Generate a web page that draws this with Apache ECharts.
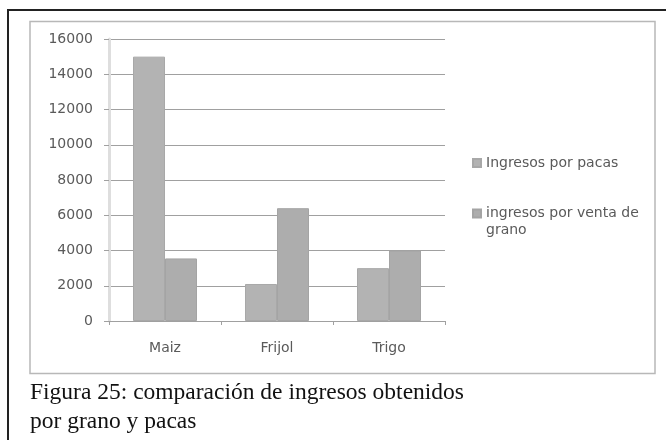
<!DOCTYPE html>
<html>
<head>
<meta charset="utf-8">
<script src="https://cdn.jsdelivr.net/npm/echarts@6/dist/echarts.min.js"></script>
<style>
html,body{margin:0;padding:0;background:#fff;}
#c{width:666px;height:440px;}
</style>
</head>
<body>
<div id="c"></div>
<script>
const categories = ['Maiz', 'Frijol', 'Trigo'];
const seriesNames = ['Ingresos por pacas', 'ingresos por venta de grano'];
const pacas = [15000, 2100, 3000];
const grano = [3550, 6400, 4000];
const yTicks = { min: 0, max: 16000, interval: 2000 };
const captionLines = ['Figura 25: comparación de ingresos obtenidos', 'por grano y pacas'];

const chart = echarts.init(document.getElementById('c'), null, { renderer: 'canvas' });
const labelFont = 'DejaVu Sans';
const txtColor = '#5a5a5a';

chart.setOption({
  backgroundColor: '#ffffff',
  animation: false,
  title: {
    text: captionLines.join('\n'),
    left: 25,
    top: 373,
    textStyle: {
      fontFamily: 'Liberation Serif',
      fontSize: 23.5,
      fontWeight: 'normal',
      color: '#111111',
      lineHeight: 29
    }
  },
  graphic: [
    { type: 'rect', shape: { x: 8, y: 10, width: 680, height: 460 }, style: { fill: 'none', stroke: '#222222', lineWidth: 2 }, silent: true, z: -1 },
    { type: 'rect', shape: { x: 30, y: 21.5, width: 625, height: 352 }, style: { fill: 'none', stroke: '#b8b8b8', lineWidth: 1.5 }, silent: true, z: -1 }
  ],
  legend: [
    {
      data: [seriesNames[0]],
      orient: 'vertical',
      left: 472,
      top: 156,
      padding: 0,
      icon: 'rect',
      itemWidth: 8,
      itemHeight: 8,
      textStyle: { fontFamily: labelFont, fontSize: 14, color: txtColor }
    },
    {
      data: [seriesNames[1]],
      orient: 'vertical',
      left: 472,
      top: 188,
      padding: 0,
      icon: 'rect',
      itemWidth: 8,
      itemHeight: 8,
      formatter: function (n) { return '\u00a0\ningresos por venta de\ngrano'; },
      textStyle: { fontFamily: labelFont, fontSize: 14, color: txtColor, lineHeight: 17 }
    }
  ],
  grid: { left: 109, right: 221, top: 39, bottom: 119, containLabel: false },
  xAxis: {
    type: 'category',
    data: categories,
    boundaryGap: true,
    axisLine: { show: true, lineStyle: { color: '#a0a0a0', width: 1 } },
    axisTick: { show: true, length: 4, lineStyle: { color: '#a0a0a0' } },
    axisLabel: { fontFamily: labelFont, fontSize: 14, color: txtColor, margin: 20 }
  },
  yAxis: {
    type: 'value',
    min: yTicks.min,
    max: yTicks.max,
    interval: yTicks.interval,
    axisLine: { show: true, lineStyle: { color: '#dedede', width: 3 } },
    axisTick: { show: true, length: 5, lineStyle: { color: '#a0a0a0' } },
    axisLabel: { fontFamily: labelFont, fontSize: 14, color: txtColor, margin: 16, formatter: function (v) { return String(v); } },
    splitLine: { show: true, lineStyle: { color: '#a0a0a0', width: 1 } }
  },
  series: [
    {
      name: seriesNames[0],
      type: 'bar',
      data: pacas,
      barWidth: 32,
      barGap: '0%',
      itemStyle: { color: '#b3b3b3', borderColor: '#a8a8a8', borderWidth: 1 }
    },
    {
      name: seriesNames[1],
      type: 'bar',
      data: grano,
      barWidth: 32,
      barGap: '0%',
      itemStyle: { color: '#adadad', borderColor: '#a4a4a4', borderWidth: 1 }
    }
  ]
});
</script>
</body>
</html>
